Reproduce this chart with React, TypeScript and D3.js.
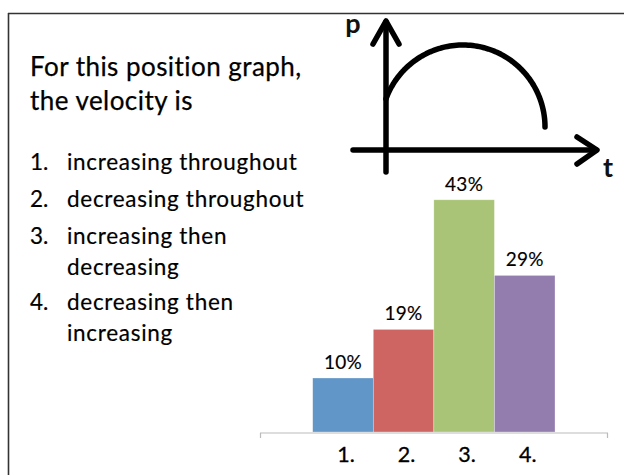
import React from "react";
import * as d3 from "d3";

const categories = ["1.", "2.", "3.", "4."];
const values = [10, 19, 43, 29];
const valueLabels = ["10%", "19%", "43%", "29%"];
const barColors = ["#6096C8", "#CF6562", "#A9C476", "#937CAE"];

const titleLines = ["For this position graph,", "the velocity is"];
const optionNumbers = ["1.", "2.", "3.", "4."];
const optionLines = [
  ["increasing throughout"],
  ["decreasing throughout"],
  ["increasing then", "decreasing"],
  ["decreasing then", "increasing"],
];

const FONT = "Lato, 'Open Sans', sans-serif";

export default function App() {
  const W = 624;
  const H = 475;

  // bar chart scales
  const x = d3.scaleBand<string>().domain(categories).range([312.7, 555]).padding(0);
  const y = d3.scaleLinear().domain([0, 50]).range([432, 162]);
  const axisLeft = 260;
  const axisRight = 608;

  // option text baselines
  const optionBaselines = [[170], [207], [244, 275], [310, 341]];

  // sketch graph
  const ox = 386;
  const oy = 150;
  const cx = 463;
  const cy = 127;
  const r = 82;
  const leftAngle = Math.atan2(99 - cy, ox - cx);
  const sweep = (0 - leftAngle + 2 * Math.PI) % (2 * Math.PI);
  const arcPts: [number, number][] = d3.range(0, 101).map((i) => {
    const a = leftAngle + sweep * (i / 100);
    return [cx + r * Math.cos(a), cy + r * Math.sin(a)];
  });
  const curvePath = d3.line()(arcPts) || "";

  return (
    <svg
      width={W}
      height={H}
      style={{ position: "absolute", left: 0, top: 0, background: "#fff" }}
      fontFamily={FONT}
    >
      <rect x={0} y={0} width={W} height={H} fill="#fff" />
      {/* frame */}
      <line x1={8} y1={13.5} x2={W} y2={13.5} stroke="#333" strokeWidth={1.6} />
      <line x1={8.5} y1={13} x2={8.5} y2={H} stroke="#333" strokeWidth={1.6} />

      {/* title */}
      {titleLines.map((t, i) => (
        <text key={t} x={30} y={76 + i * 34} fontSize={26} letterSpacing={0.45} fill="#000" stroke="#000" strokeWidth={0.25}>
          {t}
        </text>
      ))}

      {/* options */}
      {optionLines.map((lines, i) => (
        <g key={i} fill="#000" stroke="#000" strokeWidth={0.2}>
          <text x={30} y={optionBaselines[i][0]} fontSize={22.5}>
            {optionNumbers[i]}
          </text>
          {lines.map((l, j) => (
            <text key={j} x={67} y={optionBaselines[i][j]} fontSize={22.5} letterSpacing={0.7}>
              {l}
            </text>
          ))}
        </g>
      ))}

      {/* position graph sketch */}
      <g stroke="#000" strokeWidth={5.5} fill="none" strokeLinecap="round" strokeLinejoin="round">
        <line x1={ox} y1={172} x2={ox} y2={22} />
        <line x1={353} y1={oy} x2={596} y2={oy} />
        <polyline points={`373,44 ${ox},21 399,44`} />
        <polyline points={`577,137 597,${oy} 577,164`} />
        <path d={curvePath} />
      </g>
      <text x={353} y={33} fontSize={27} fontWeight="bold" textAnchor="middle" fill="#111">
        p
      </text>
      <text x={608} y={177} fontSize={27} fontWeight="bold" textAnchor="middle" fill="#111">
        t
      </text>

      {/* bars */}
      {categories.map((c, i) => (
        <g key={c}>
          <rect
            x={x(c)}
            y={y(values[i])}
            width={x.bandwidth()}
            height={y(0) - y(values[i])}
            fill={barColors[i]}
            stroke="#fff"
            strokeOpacity={0.5}
            strokeWidth={0.6}
          />
          <text
            x={(x(c) || 0) + x.bandwidth() / 2}
            y={y(values[i]) - 9}
            textAnchor="middle"
            fontSize={19}
            letterSpacing={0.3}
            fill="#000"
            stroke="#000"
            strokeWidth={0.15}
          >
            {valueLabels[i]}
          </text>
          <text
            x={(x(c) || 0) + x.bandwidth() / 2 + 3}
            y={462}
            textAnchor="middle"
            fontSize={21.5}
            fill="#000"
            stroke="#000"
            strokeWidth={0.3}
          >
            {c}
          </text>
        </g>
      ))}
      {/* category axis */}
      <g stroke="#bbb" strokeWidth={1.2} fill="none">
        <line x1={axisLeft} y1={y(0) + 1} x2={axisRight} y2={y(0) + 1} />
        <line x1={axisLeft + 0.5} y1={y(0) + 1} x2={axisLeft + 0.5} y2={y(0) + 6} />
        <line x1={axisRight - 0.5} y1={y(0) + 1} x2={axisRight - 0.5} y2={y(0) + 6} />
      </g>
    </svg>
  );
}
